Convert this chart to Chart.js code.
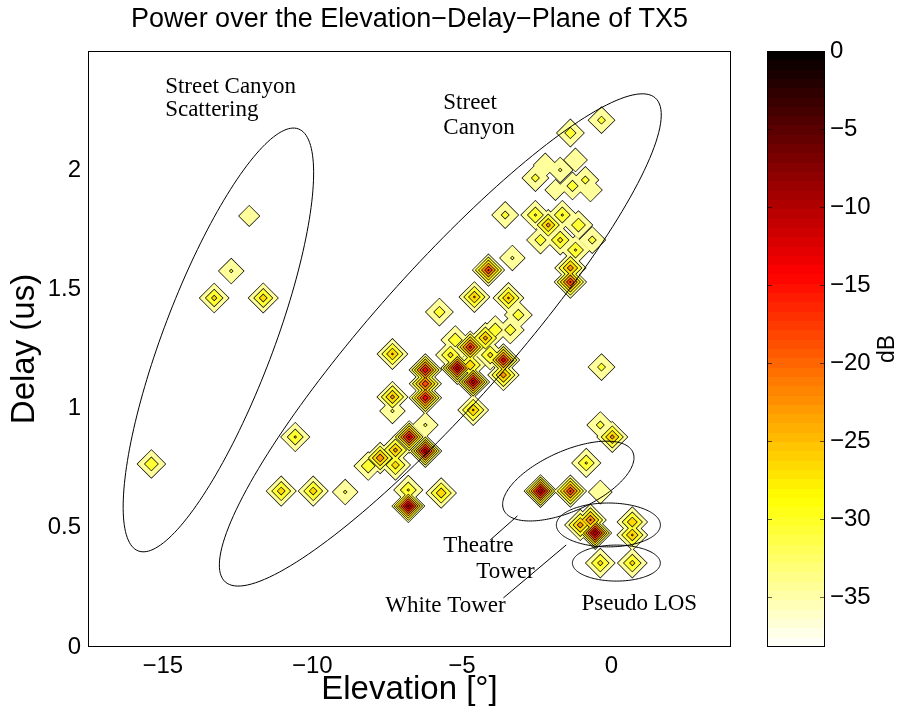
<!DOCTYPE html>
<html><head><meta charset="utf-8">
<script src="https://cdn.jsdelivr.net/npm/chart.js@4/dist/chart.umd.min.js"></script>
<style>
html,body{margin:0;padding:0;background:#fff;}
#wrap{position:relative;width:901px;height:724px;overflow:hidden;}
#main{position:absolute;left:0;top:0;}
#cbar{position:absolute;left:740px;top:0;}
</style></head><body>
<div id="wrap">
<canvas id="main" width="901" height="724"></canvas>
<canvas id="cbar" width="161" height="724"></canvas>
</div>
<script>
// ---------- data ----------
const xTicks = [-15, -10, -5, 0];
const yTicks = [0, 0.5, 1, 1.5, 2];
const cbTicks = [-35, -30, -25, -20, -15, -10, -5, 0];
const contourLevels = [-36.5, -32.5, -28.5, -24.5, -20.5, -16.5, -12.5, -8.5, -4.5];

const peakElevation = [
  -12.11, -12.71, -13.28, -11.64, -15.38,
  -0.33, -1.37, -3.55, -3.31, -4.11, -4.58, -5.75, -7.32, -4.62, -10.57, -11.04, -9.97, -8.90, -5.69, -0.33, -0.84, -0.37,
  -6.22, -6.22, -6.22,
  -7.32, -7.32,
  -6.79, -6.79,
  -7.73, -7.22, -8.13, -6.76, -6.22, -6.22, -7.22,
  -3.44, -3.11, -3.38, -3.88, -4.21, -4.72, -5.22, -5.38, -5.15, -4.62, -4.72, -4.05, -3.61, -3.61,
  -2.54, -2.21, -1.71, -1.20, -0.87, -0.70, -1.87, -1.30,
  -2.54, -2.11, -1.64, -1.10, -0.64, -2.37, -1.71, -1.20,
  -1.37, -1.37,
  -0.37, 0.03,
  -2.37, -1.37,
  -1.04, -0.54, -0.70, 0.70, 0.70,
  -0.37, 0.70
];
const peakDelay = [
  1.808, 1.577, 1.464, 1.464, 0.768,
  2.21, 2.156, 1.812, 1.632, 1.581, 1.468, 1.405, 1.229, 0.994, 0.881, 0.654, 0.654, 0.650, 0.646, 1.174, 0.772, 0.650,
  1.162, 1.045, 1.104,
  1.049, 0.99,
  0.591, 0.659,
  0.793, 0.826, 0.759, 0.881, 0.822, 0.931, 0.763,
  1.464, 1.393, 1.330, 1.330, 1.296, 1.258, 1.288, 1.225, 1.170, 1.112, 1.183, 1.225, 1.204, 1.141,
  1.967, 2.022, 2.001, 2.043, 1.959, 1.917, 1.917, 1.934,
  1.812, 1.770, 1.812, 1.770, 1.707, 1.707, 1.707, 1.665,
  1.590, 1.531,
  0.931, 0.881,
  0.654, 0.654,
  0.512, 0.478, 0.533, 0.524, 0.470,
  0.352, 0.352
];
const peakPowerDb = [
  -34, -32, -27, -26, -29,
  -31, -30, -31, -32, -16, -24, -30, -24, -24, -28, -26, -26, -32, -25, -31, -28, -33,
  -13, -13, -17,
  -23, -32,
  -8, -28,
  -21, -23, -29, -12, -10, -32, -26,
  -24, -30, -30, -29, -23, -15, -29, -27, -10, -10, -25, -27, -14, -22,
  -31, -33, -32, -33, -31, -33, -34, -30,
  -28, -23, -28, -29, -31, -30, -27, -28,
  -22, -16,
  -31, -23,
  -9, -16,
  -22, -9, -20, -25, -24,
  -27, -27
];

// ellipses (centre and two conjugate semi-axes, data units)
const ellipseCx = [-13.14, -5.72, -1.44, -0.10, 0.167];
const ellipseCy = [1.288, 1.288, 0.696, 0.512, 0.352];
const ellipseAx = [2.68, 7.19, 2.157, 1.74, 1.47];
const ellipseAy = [0.885, 1.015, 0.1216, 0, 0];
const ellipseBx = [1.72, 1.70, 0.412, 0, 0];
const ellipseBy = [-0.082, -0.189, -0.115, 0.092, 0.0755];

// annotation texts
const labelText  = ['Street Canyon', 'Scattering', 'Street', 'Canyon', 'Theatre', 'Tower', 'White Tower', 'Pseudo LOS'];
const labelElev  = [-14.92, -14.92, -5.62, -5.62, -5.62, -4.52, -7.56, -1.00];
const labelDelay = [2.349, 2.253, 2.282, 2.177, 0.424, 0.315, 0.172, 0.180];
// leader lines
const leaderX1 = [-4.05, -3.61];
const leaderY1 = [0.449, 0.206];
const leaderX2 = [-3.14, -1.51];
const leaderY2 = [0.550, 0.428];

const DB_MIN = -38.2, DB_MAX = 0;

// ---------- helpers ----------
const SANS = '"Liberation Sans", Arial, Helvetica, sans-serif';
const SERIF = '"Liberation Serif", "Times New Roman", serif';
function hot(t) {
  t = Math.max(0, Math.min(1, t));
  const r = Math.min(1, t / 0.375);
  const g = Math.max(0, Math.min(1, (t - 0.375) / 0.375));
  const b = Math.max(0, Math.min(1, (t - 0.75) / 0.25));
  return `rgb(${Math.round(r * 255)},${Math.round(g * 255)},${Math.round(b * 255)})`;
}
function dbColor(v) { return hot((DB_MAX - v) / (DB_MAX - DB_MIN)); }
function fmtMinus(v) { return v < 0 ? '\u2212' + String(Math.abs(v)) : String(v); }

// ---------- contour-like datasets ----------
const GRID_PX = 17;
const datasets = [];
contourLevels.forEach((L, k) => {
  const pts = [], rad = [];
  peakPowerDb.forEach((p, i) => {
    if (p > L) {
      pts.push({x: peakElevation[i], y: peakDelay[i]});
      rad.push(GRID_PX * (p - L) / (p - DB_MIN));
    }
  });
  const fill = dbColor(L + 2);
  datasets.push({
    data: pts, pointRadius: rad, pointStyle: 'rectRot',
    pointBackgroundColor: '#000', pointBorderColor: '#000', pointBorderWidth: 1.3,
    showLine: false, order: 1000 - 2 * k
  });
  datasets.push({
    data: pts, pointRadius: rad, pointStyle: 'rectRot',
    pointBackgroundColor: fill, pointBorderColor: fill, pointBorderWidth: 0,
    showLine: false, order: 999 - 2 * k
  });
});

const overlayPlugin = {
  id: 'overlay',
  afterDraw(chart) {
    const {ctx, chartArea: a, scales: {x, y}} = chart;
    ctx.save();
    ctx.beginPath();
    ctx.rect(a.left, a.top, a.right - a.left, a.bottom - a.top);
    ctx.clip();
    ctx.strokeStyle = '#000';
    ctx.lineWidth = 1;
    for (let e = 0; e < ellipseCx.length; e++) {
      ctx.beginPath();
      for (let s = 0; s <= 360; s += 2) {
        const t = s * Math.PI / 180;
        const ex = ellipseCx[e] + ellipseAx[e] * Math.cos(t) + ellipseBx[e] * Math.sin(t);
        const ey = ellipseCy[e] + ellipseAy[e] * Math.cos(t) + ellipseBy[e] * Math.sin(t);
        const px = x.getPixelForValue(ex), py = y.getPixelForValue(ey);
        if (s === 0) ctx.moveTo(px, py); else ctx.lineTo(px, py);
      }
      ctx.closePath();
      ctx.stroke();
    }
    for (let i = 0; i < leaderX1.length; i++) {
      ctx.beginPath();
      ctx.moveTo(x.getPixelForValue(leaderX1[i]), y.getPixelForValue(leaderY1[i]));
      ctx.lineTo(x.getPixelForValue(leaderX2[i]), y.getPixelForValue(leaderY2[i]));
      ctx.stroke();
    }
    ctx.fillStyle = '#000';
    ctx.font = '23px ' + SERIF;
    ctx.textAlign = 'left';
    ctx.textBaseline = 'middle';
    for (let i = 0; i < labelText.length; i++) {
      ctx.fillText(labelText[i], x.getPixelForValue(labelElev[i]), y.getPixelForValue(labelDelay[i]));
    }
    ctx.restore();
    ctx.save();
    ctx.strokeStyle = '#000';
    ctx.lineWidth = 1;
    ctx.strokeRect(Math.round(a.left) + 0.5, Math.round(a.top) + 0.5,
      Math.round(a.right - a.left) - 1, Math.round(a.bottom - a.top) - 1);
    ctx.fillStyle = '#000';
    ctx.font = '27px ' + SANS;
    ctx.textAlign = 'center';
    ctx.textBaseline = 'middle';
    ctx.fillText('Power over the Elevation\u2212Delay\u2212Plane of TX5', (a.left + a.right) / 2, 20);
    ctx.restore();
  }
};

new Chart(document.getElementById('main'), {
  type: 'scatter',
  data: {datasets},
  options: {
    responsive: false, animation: false, events: [], devicePixelRatio: 1,
    layout: {padding: {left: 0, top: 51, right: 170, bottom: 0}},
    plugins: {legend: {display: false}, tooltip: {enabled: false}, title: {display: false}},
    scales: {
      x: {
        type: 'linear', min: -17.5, max: 4,
        afterBuildTicks: s => { s.ticks = xTicks.map(v => ({value: v})); },
        afterFit: s => { s.height = 77; },
        ticks: {font: {family: SANS, size: 24}, color: '#000', padding: 5, maxRotation: 0, callback: v => fmtMinus(v)},
        grid: {display: false, drawTicks: false},
        border: {display: false},
        title: {display: true, text: 'Elevation [\u00B0]', font: {family: SANS, size: 33}, color: '#000', padding: {top: 0, bottom: 14}}
      },
      y: {
        type: 'linear', min: 0, max: 2.5,
        afterBuildTicks: s => { s.ticks = yTicks.map(v => ({value: v})); },
        afterFit: s => { s.width = 88; },
        ticks: {font: {family: SANS, size: 24}, color: '#000', padding: 7, callback: v => String(v)},
        grid: {display: false, drawTicks: false},
        border: {display: false},
        title: {display: true, text: 'Delay (us)', font: {family: SANS, size: 33}, color: '#000', padding: {top: 5, bottom: 0}}
      }
    }
  },
  plugins: [overlayPlugin]
});

// ---------- colour bar ----------
function barGradient(context) {
  const chart = context.chart;
  const a = chart.chartArea;
  if (!a) return '#fff';
  const g = chart.ctx.createLinearGradient(0, a.top, 0, a.bottom);
  const n = 64;
  for (let i = 0; i < n; i++) {
    const c = hot((i + 0.5) / n);
    g.addColorStop(i / n, c);
    g.addColorStop((i + 1) / n - 1e-6, c);
  }
  return g;
}
const cbPlugin = {
  id: 'cbframe',
  afterDraw(chart) {
    const {ctx, chartArea: a, scales: {y}} = chart;
    ctx.save();
    ctx.strokeStyle = '#000';
    ctx.lineWidth = 1;
    ctx.strokeRect(Math.round(a.left) + 0.5, Math.round(a.top) + 0.5,
      Math.round(a.right - a.left) - 1, Math.round(a.bottom - a.top) - 1);
    ctx.strokeStyle = 'rgba(0,0,0,0.6)';
    cbTicks.forEach(v => {
      const py = Math.round(y.getPixelForValue(v)) + 0.5;
      ctx.beginPath();
      ctx.moveTo(a.left, py); ctx.lineTo(a.left + 5, py);
      ctx.moveTo(a.right - 5, py); ctx.lineTo(a.right, py);
      ctx.stroke();
    });
    ctx.fillStyle = '#000';
    ctx.font = '23px ' + SANS;
    ctx.textAlign = 'center';
    ctx.textBaseline = 'middle';
    ctx.translate(148, (a.top + a.bottom) / 2);
    ctx.rotate(-Math.PI / 2);
    ctx.fillText('dB', 0, 0);
    ctx.restore();
  }
};
new Chart(document.getElementById('cbar'), {
  type: 'bar',
  data: {labels: ['dB'], datasets: [{data: [[DB_MIN, DB_MAX]], backgroundColor: barGradient, borderWidth: 0, barPercentage: 1, categoryPercentage: 1}]},
  options: {
    responsive: false, animation: false, events: [], devicePixelRatio: 1,
    layout: {padding: {left: 27, top: 51, right: 0, bottom: 77}},
    plugins: {legend: {display: false}, tooltip: {enabled: false}},
    scales: {
      x: {display: false},
      y: {
        position: 'right', min: DB_MIN, max: DB_MAX,
        afterBuildTicks: s => { s.ticks = cbTicks.map(v => ({value: v})); },
        afterFit: s => { s.width = 76; },
        ticks: {font: {family: SANS, size: 24}, color: '#000', padding: 5, callback: v => fmtMinus(v)},
        grid: {display: false, drawTicks: false},
        border: {display: false}
      }
    }
  },
  plugins: [cbPlugin]
});
</script>
</body></html>
